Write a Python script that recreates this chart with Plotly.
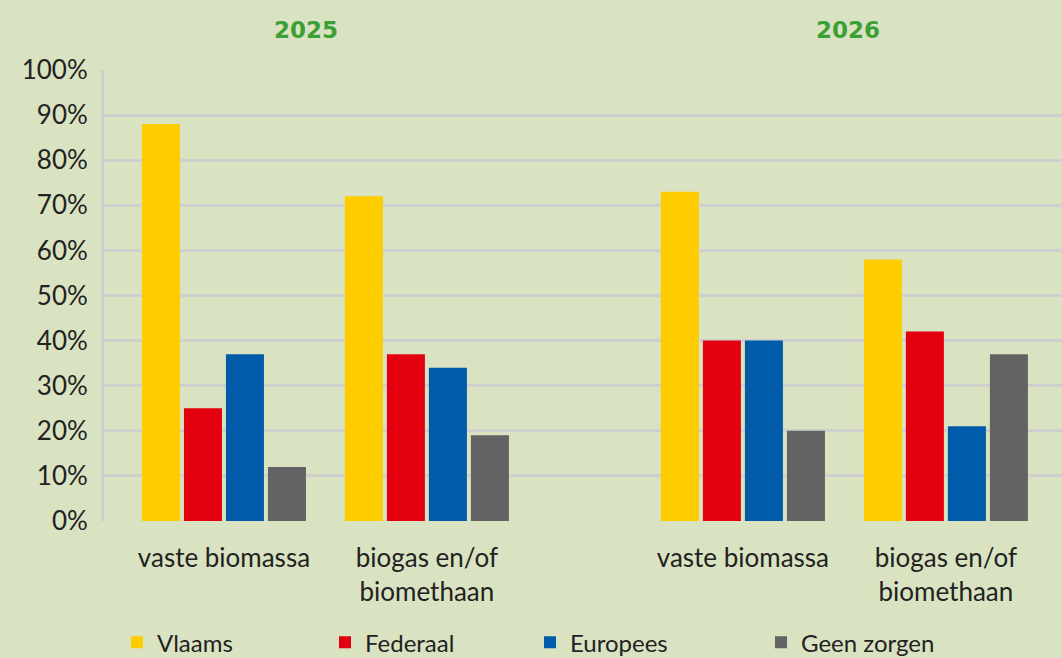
import plotly.graph_objects as go

categories = ["vaste biomassa", "biogas en/of<br>biomethaan"]
years = ["2025", "2026"]
series_names = ["Vlaams", "Federaal", "Europees", "Geen zorgen"]
colors = ["#FFCC00", "#E3000F", "#005CA9", "#636363"]

values_2025 = {
    "Vlaams": [88, 72],
    "Federaal": [25, 37],
    "Europees": [37, 34],
    "Geen zorgen": [12, 19],
}
values_2026 = {
    "Vlaams": [73, 58],
    "Federaal": [40, 42],
    "Europees": [40, 21],
    "Geen zorgen": [20, 37],
}
y_ticks = [0, 10, 20, 30, 40, 50, 60, 70, 80, 90, 100]
y_ticktext = [f"{v}%" for v in y_ticks]

BG = "#DAE3C1"
GRID = "#CFCFCD"
FONT = "Lato"
TXT = "#222222"

W, H = 1062, 658
ml, mr, mt, mb = 104, 0, 70, 137
pw = W - ml - mr
ph = H - mt - mb
split = (585 - ml) / pw

legend_ids = ["legend", "legend2", "legend3", "legend4"]
legend_left_px = [117, 325, 530, 761]

fig = go.Figure()
for name, col, lid in zip(series_names, colors, legend_ids):
    fig.add_trace(go.Bar(x=categories, y=values_2025[name], name=name,
                         marker=dict(color=col, line=dict(width=0)),
                         xaxis="x", yaxis="y", legendgroup=name, legend=lid))
    fig.add_trace(go.Bar(x=categories, y=values_2026[name], name=name,
                         marker=dict(color=col, line=dict(width=0)),
                         xaxis="x2", yaxis="y", legendgroup=name,
                         showlegend=False, legend=lid))

xcommon = dict(type="category", showgrid=False, zeroline=False,
               showline=False, ticks="outside", ticklen=14,
               tickcolor="rgba(0,0,0,0)",
               tickfont=dict(family=FONT, size=26, color=TXT))

legend_common = dict(orientation="h", y=-0.22, xanchor="left", yanchor="top",
                     font=dict(family=FONT, size=24, color=TXT),
                     bgcolor="rgba(0,0,0,0)")

layout_legends = {lid: dict(x=(px - ml) / pw, **legend_common)
                  for lid, px in zip(legend_ids, legend_left_px)}

fig.update_layout(
    width=W, height=H,
    margin=dict(l=ml, r=mr, t=mt, b=mb, autoexpand=False),
    paper_bgcolor=BG, plot_bgcolor=BG,
    barmode="group", bargap=0.172, bargroupgap=0.095,
    xaxis=dict(domain=[0, split], range=[-0.591, 1.779], **xcommon),
    xaxis2=dict(domain=[split, 1], range=[-0.778, 1.572], anchor="y", **xcommon),
    yaxis=dict(range=[0, 100], tickvals=y_ticks, ticktext=y_ticktext,
               showgrid=True, gridcolor=GRID, gridwidth=3,
               zeroline=False, showline=True, linecolor=GRID, linewidth=3,
               ticks="outside", ticklen=8, tickcolor="rgba(0,0,0,0)",
               tickfont=dict(family=FONT, size=26, color=TXT)),
    showlegend=True,
    **layout_legends,
)

for yr, xc in zip(years, [306, 848]):
    fig.add_annotation(text=f"<b>{yr}</b>", xref="paper", yref="paper",
                       x=(xc - ml) / pw, y=1 + (70 - 30) / ph,
                       xanchor="center", yanchor="middle", showarrow=False,
                       font=dict(family="DejaVu Sans", size=23, color="#3DA035"))

fig.write_html("out.html", config={"displayModeBar": False},
               post_script="document.body.style.margin='0';")
